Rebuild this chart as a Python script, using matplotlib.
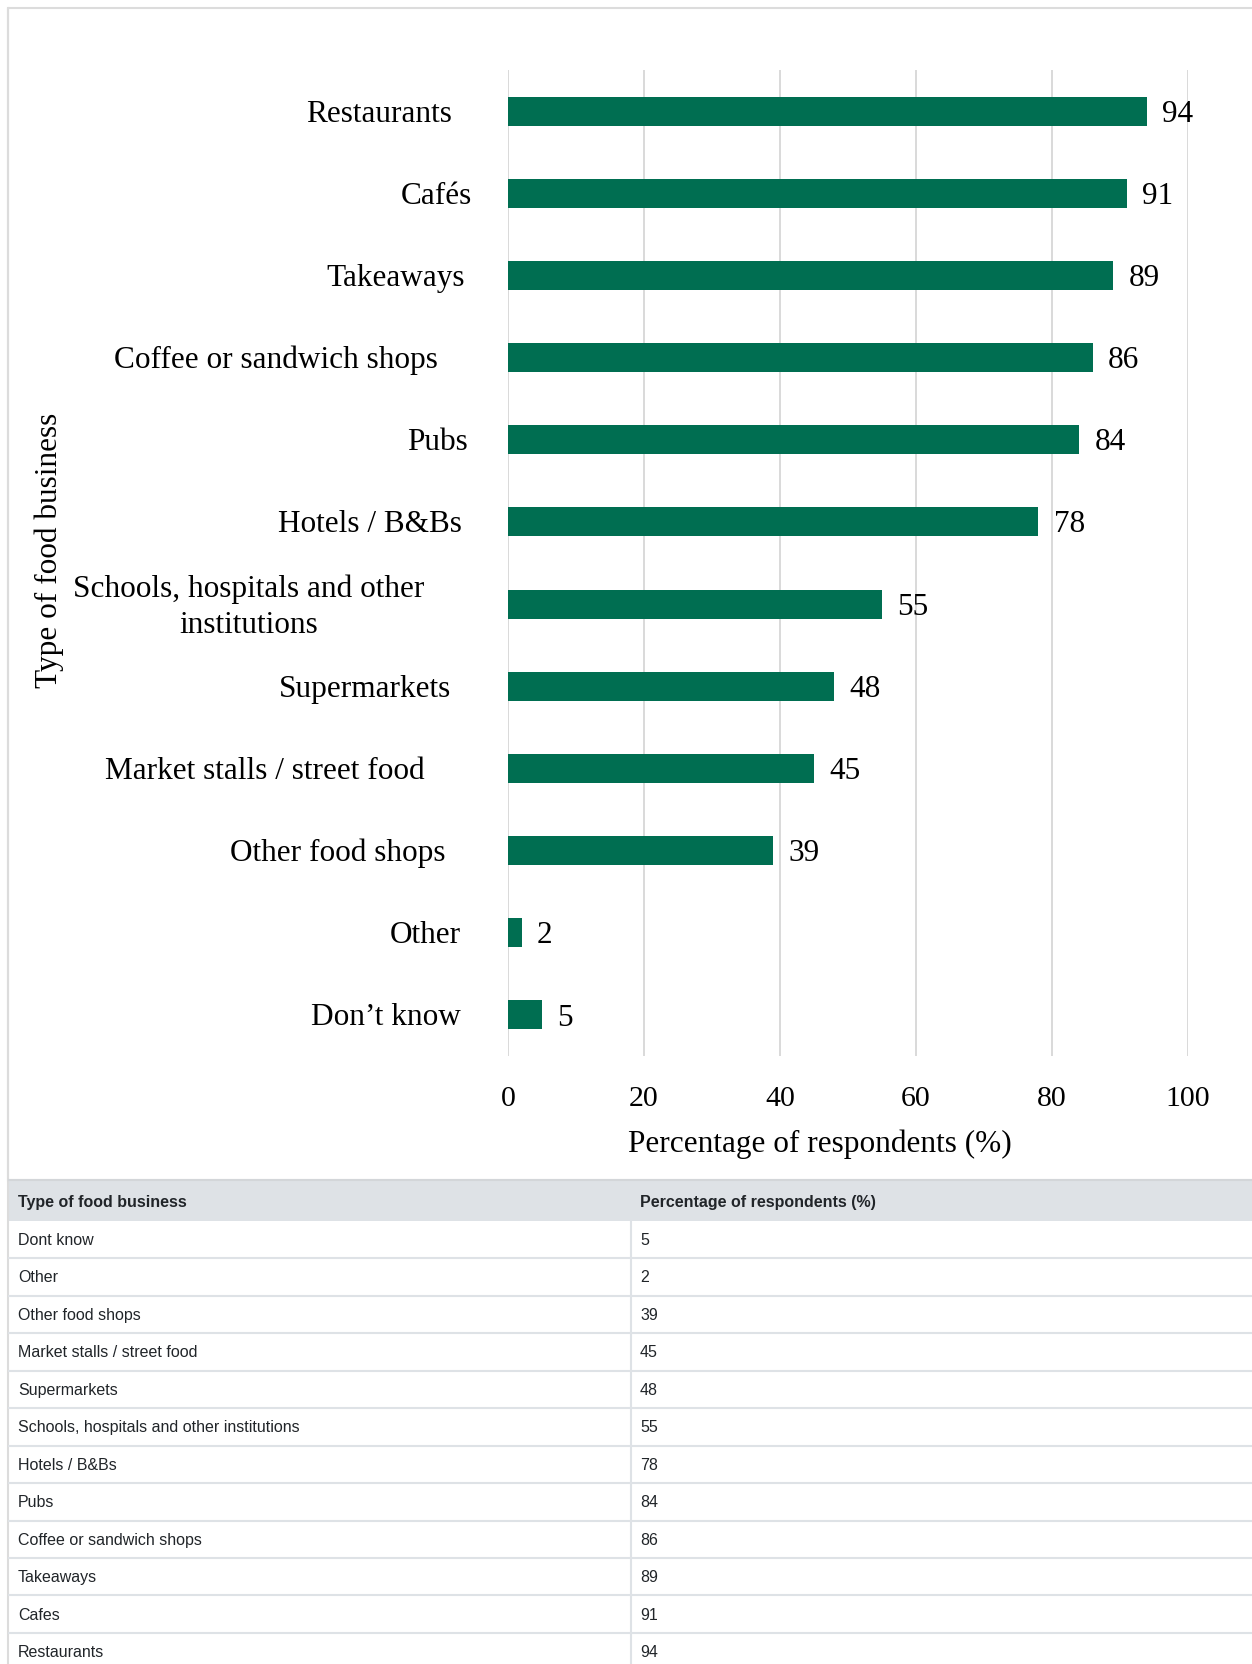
import matplotlib.pyplot as plt
import matplotlib.transforms as mtransforms
from matplotlib.patches import Rectangle

# Survey results, listed bottom to top of the chart (same order as the table)
categories = [
    "Don\u2019t know",
    "Other",
    "Other food shops",
    "Market stalls / street food",
    "Supermarkets",
    "Schools, hospitals and other\ninstitutions",
    "Hotels / B&Bs",
    "Pubs",
    "Coffee or sandwich shops",
    "Takeaways",
    "Caf\u00e9s",
    "Restaurants",
]
table_names = [
    "Dont know",
    "Other",
    "Other food shops",
    "Market stalls / street food",
    "Supermarkets",
    "Schools, hospitals and other institutions",
    "Hotels / B&Bs",
    "Pubs",
    "Coffee or sandwich shops",
    "Takeaways",
    "Cafes",
    "Restaurants",
]
percent = [5, 2, 39, 45, 48, 55, 78, 84, 86, 89, 91, 94]
x_ticks = [0, 20, 40, 60, 80, 100]

# right edge (px) of each category label
label_right = [461, 461, 446, 425, 451, 424, 462, 468, 438, 465, 472, 452]

W, H = 1252, 1665
GREEN = "#006E51"
GRID = "#d9d9d9"
LINE = "#dee2e6"

fig = plt.figure(figsize=(W / 100, H / 100), dpi=100)
fig.patch.set_facecolor("white")

# background layer in pixel units: frame around the chart and the data table
bg = fig.add_axes([0, 0, 1, 1], zorder=0)
bg.set_xlim(0, W)
bg.set_ylim(H, 0)
bg.axis("off")

bg.add_patch(Rectangle((8, 9), W + 10, 1172, fill=False, edgecolor="#dcdcdc", lw=1.5))
bg.plot([8, 8], [9, H], color="#dcdcdc", lw=1.5)

# chart
ax = fig.add_axes([508 / W, 1 - 1057 / H, 680 / W, 986 / H], zorder=1)
ax.patch.set_visible(False)
ypos = list(range(len(categories)))
ax.barh(ypos, percent, height=0.353, color=GREEN, zorder=3)
ax.set_xlim(0, 100)
ax.set_ylim(-0.5, len(categories) - 0.5)
ax.set_xticks(x_ticks)
ax.grid(axis="x", color=GRID, lw=1.4, zorder=0)
ax.set_axisbelow(True)
for s in ax.spines.values():
    s.set_visible(False)
ax.set_yticks([])
ax.tick_params(axis="x", length=0, pad=21, labelsize=21.5)
for t in ax.get_xticklabels():
    t.set_fontfamily("Liberation Serif")

serif = dict(fontfamily="Liberation Serif", fontsize=22.5, color="black")

for y, v in zip(ypos, percent):
    ax.annotate(str(v), (v, y), xytext=(11, -1.5), textcoords="offset points",
                ha="left", va="center", **serif)

# nudge labels down a touch so the glyphs sit on the bar centre
nudge = mtransforms.ScaledTranslation(0, -2 / 100, fig.dpi_scale_trans)
lab_trans = mtransforms.blended_transform_factory(bg.transData, ax.transData) + nudge
for y, name, xr in zip(ypos, categories, label_right):
    ax.text(xr, y, name, transform=lab_trans, ha="right", va="center",
            multialignment="center", linespacing=1.32, **serif)

ax.set_xlabel("Percentage of respondents (%)", va="center", **serif)
ax.xaxis.set_label_coords(0.458, -0.088)
ax.set_ylabel("Type of food business", va="center", **serif)
ax.yaxis.set_label_coords(-0.675, 0.514)

# data table under the chart
sans = dict(fontfamily="Liberation Sans", fontsize=11.5, color="#212529")
head_top, head_bot = 1181, 1221.5
row_h = 37.5
col2 = 631

bg.add_patch(Rectangle((9, head_top), W, head_bot - head_top, facecolor=LINE, edgecolor="none"))
bg.plot([9, W], [head_top, head_top], color="#d3d6d9", lw=1.5)
bg.text(18, (head_top + head_bot) / 2 + 1.5, "Type of food business", ha="left", va="center",
        fontweight="bold", **sans)
bg.text(640, (head_top + head_bot) / 2 + 1.5, "Percentage of respondents (%)", ha="left",
        va="center", fontweight="bold", **sans)

for i, (name, v) in enumerate(zip(table_names, percent)):
    top = head_bot + i * row_h
    mid = top + row_h / 2
    bg.text(18, mid, name, ha="left", va="center", **sans)
    bg.text(640, mid, str(v), ha="left", va="center", **sans)
    bg.plot([9, W], [top + row_h, top + row_h], color=LINE, lw=1.5)

bg.plot([col2, col2], [head_bot, H], color=LINE, lw=1.5)

fig.savefig("out.png", dpi=100)
